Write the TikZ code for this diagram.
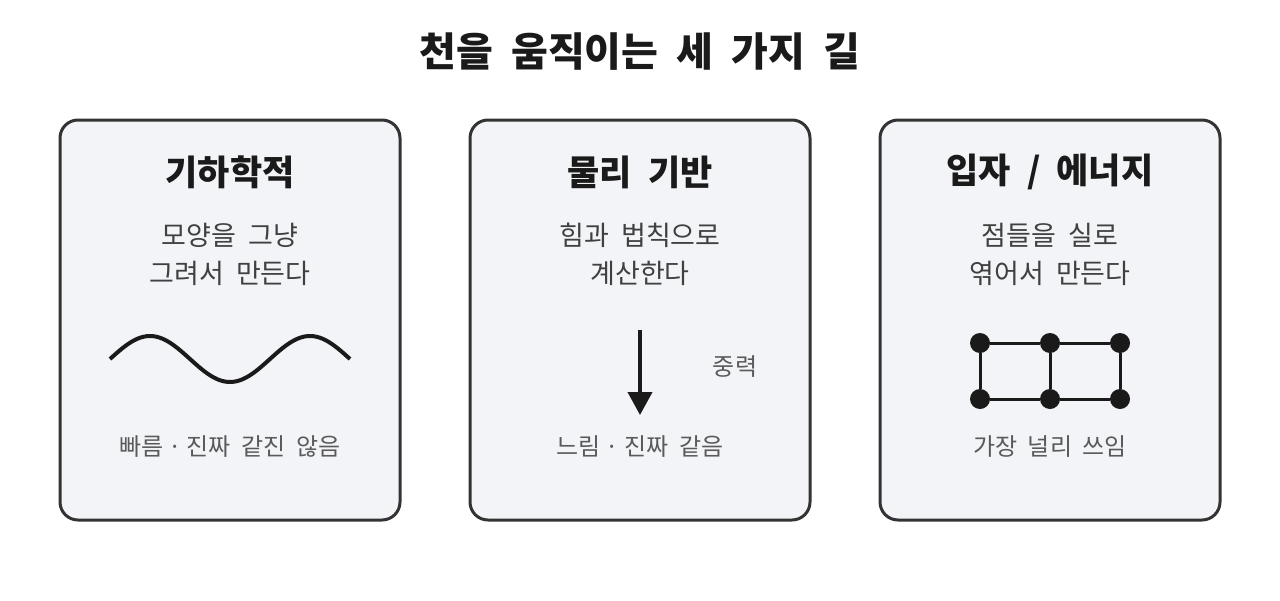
\documentclass[tikz,border=0pt]{standalone}
\usepackage{fontspec}
\setmainfont[WordSpace=2]{Noto Sans CJK KR}
\usetikzlibrary{arrows.meta}
\definecolor{boxfill}{HTML}{F3F4F7}
\definecolor{boxline}{HTML}{333333}
\definecolor{ink}{HTML}{1A1A1A}
\definecolor{bodytext}{HTML}{404040}
\definecolor{notetext}{HTML}{5A5A5A}
\newcommand{\middot}{\hspace{5pt}·\hspace{5pt}}

\begin{document}
\begin{tikzpicture}[x=1pt,y=-1pt,
  card/.style={draw=boxline,line width=3pt,fill=boxfill,rounded corners=18pt,
    minimum width=340pt,minimum height=400pt,inner sep=0pt},
  head/.style={font=\bfseries\fontsize{35}{40}\selectfont,text=ink},
  body/.style={font=\fontsize{27}{38}\selectfont,text=bodytext,align=center},
  note/.style={font=\fontsize{24}{28}\selectfont,text=notetext},
  knot/.style={circle,fill=ink,inner sep=0pt,minimum size=20pt},
  thread/.style={draw=ink,line width=3pt}]
\useasboundingbox (0,0) rectangle (1280,600);
\fill[white] (0,0) rectangle (1280,600);
% title
\node[font=\bfseries\fontsize{40}{46}\selectfont,text=ink] (title) at (640,52) {천을 움직이는 세 가지 길};
% cards
\node[card] (geo)  at (230,320) {};
\node[card] (phys) at (640,320) {};
\node[card] (part) at (1050,320) {};
% geometric
\node[head] (geohead) at (230,172) {기하학적};
\node[body] (geobody) at (230,254) {모양을 그냥\\그려서 만든다};
\draw[ink,line width=4pt] plot[domain=110:350,samples=80,smooth] (\x,{359-23*cos(2.25*(\x-150))});
\node[note] (geonote) at (230,447) {빠름\middot 진짜 같진 않음};
% physics
\node[head] (physhead) at (640,172) {물리 기반};
\node[body] (physbody) at (640,254) {힘과 법칙으로\\계산한다};
\coordinate (fall) at (640,330);
\coordinate (land) at (640,415);
\draw[ink,line width=4pt,-{Triangle[width=24pt,length=23pt]}] (fall) -- (land);
\node[note] (gravity) at (735,367) {중력};
\node[note] (physnote) at (640,447) {느림\middot 진짜 같음};
% particles
\node[head] (parthead) at (1050,172) {입자 / 에너지};
\node[body] (partbody) at (1050,254) {점들을 실로\\엮어서 만든다};
\foreach \c/\x in {1/980,2/1050,3/1120}{
  \node[knot] (t\c) at (\x,343) {};
  \node[knot] (b\c) at (\x,399) {};
}
\draw[thread] (t1) -- (t2) -- (t3) -- (b3) -- (b2) -- (b1) -- (t1)
              (t2) -- (b2);
\node[note] (partnote) at (1050,447) {가장 널리 쓰임};
\end{tikzpicture}
\end{document}
